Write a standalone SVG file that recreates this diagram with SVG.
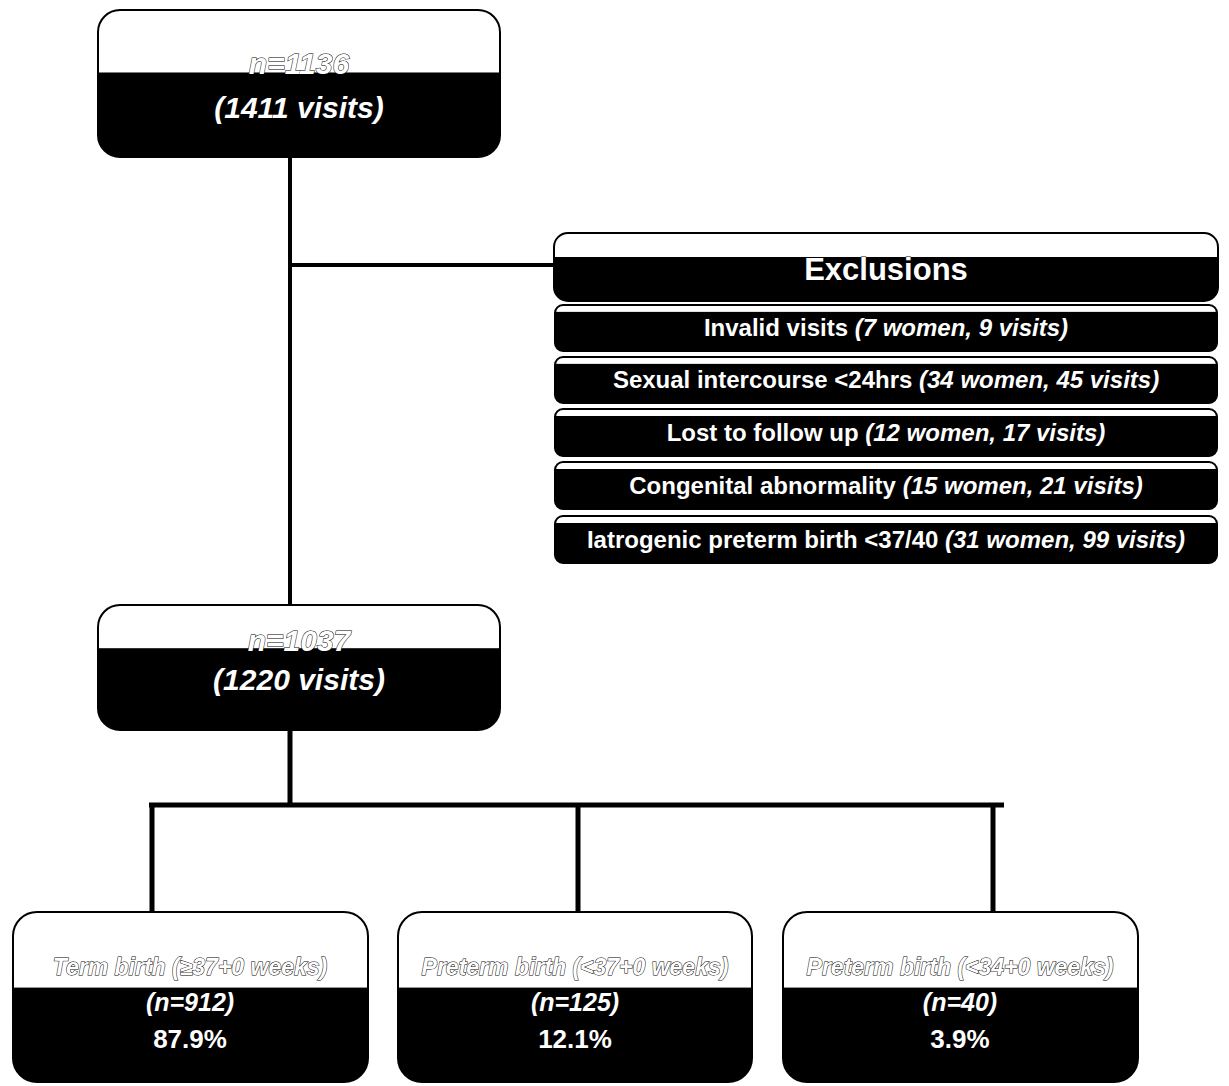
<svg xmlns="http://www.w3.org/2000/svg" width="1229" height="1086" viewBox="0 0 1229 1086">
<defs>
<linearGradient id="gTop" x1="0" y1="0" x2="0" y2="1"><stop offset="0" stop-color="#fff"/><stop offset="0.42" stop-color="#fff"/><stop offset="0.43" stop-color="#000"/><stop offset="1" stop-color="#000"/></linearGradient>
<linearGradient id="gMid" x1="0" y1="0" x2="0" y2="1"><stop offset="0" stop-color="#fff"/><stop offset="0.34" stop-color="#fff"/><stop offset="0.35" stop-color="#000"/><stop offset="1" stop-color="#000"/></linearGradient>
<linearGradient id="gBot" x1="0" y1="0" x2="0" y2="1"><stop offset="0" stop-color="#fff"/><stop offset="0.44" stop-color="#fff"/><stop offset="0.45" stop-color="#000"/><stop offset="1" stop-color="#000"/></linearGradient>
<linearGradient id="gExH" x1="0" y1="0" x2="0" y2="1"><stop offset="0" stop-color="#fff"/><stop offset="0.35" stop-color="#fff"/><stop offset="0.36" stop-color="#000"/><stop offset="1" stop-color="#000"/></linearGradient>
<linearGradient id="gRow" x1="0" y1="0" x2="0" y2="1"><stop offset="0" stop-color="#fff"/><stop offset="0.14" stop-color="#fff"/><stop offset="0.15" stop-color="#000"/><stop offset="1" stop-color="#000"/></linearGradient>
</defs>
<style>
.box{stroke:#000;stroke-width:2}
text{font-family:"Liberation Sans",Arial,sans-serif;fill:#fff;stroke:#000;stroke-width:1;paint-order:stroke;text-anchor:middle;font-weight:bold}
.big{font-size:30px;font-style:italic}
.hdr{font-size:31px}
.row{font-size:24px}
.it{font-style:italic}
.ttl{font-size:23px;font-style:italic}
.n{font-size:25px;font-style:italic}
.pct{font-size:26px}
.conn{stroke:#000;fill:none}
</style>
<g id="connectors">
<line class="conn" x1="290" y1="157" x2="290" y2="605" stroke-width="4"/>
<line class="conn" x1="290" y1="265" x2="555" y2="265" stroke-width="4"/>
<line class="conn" x1="290" y1="730" x2="290" y2="805" stroke-width="5"/>
<line class="conn" x1="149" y1="805" x2="1004" y2="805" stroke-width="5"/>
<line class="conn" x1="152" y1="805" x2="152" y2="912" stroke-width="5"/>
<line class="conn" x1="578" y1="805" x2="578" y2="912" stroke-width="5"/>
<line class="conn" x1="993" y1="805" x2="993" y2="912" stroke-width="5"/>
</g>
<g id="node-total">
<rect class="box" x="98" y="10" width="402" height="147" rx="22" fill="url(#gTop)"/>
<text class="big" x="299" y="74">n=1136</text>
<text class="big" x="299" y="118">(1411 visits)</text>
</g>
<g id="node-exclusions">
<rect class="box" x="554" y="233" width="664" height="68" rx="14" fill="url(#gExH)"/>
<text class="hdr" x="886" y="280">Exclusions</text>
<rect class="box" x="555" y="305" width="662" height="46" rx="8" fill="url(#gRow)"/>
<text class="row" x="886" y="336">Invalid visits <tspan class="it">(7 women, 9 visits)</tspan></text>
<rect class="box" x="555" y="357" width="662" height="46" rx="8" fill="url(#gRow)"/>
<text class="row" x="886" y="388">Sexual intercourse &lt;24hrs <tspan class="it">(34 women, 45 visits)</tspan></text>
<rect class="box" x="555" y="409" width="662" height="47" rx="8" fill="url(#gRow)"/>
<text class="row" x="886" y="441">Lost to follow up <tspan class="it">(12 women, 17 visits)</tspan></text>
<rect class="box" x="555" y="462" width="662" height="47" rx="8" fill="url(#gRow)"/>
<text class="row" x="886" y="494">Congenital abnormality <tspan class="it">(15 women, 21 visits)</tspan></text>
<rect class="box" x="555" y="516" width="662" height="47" rx="8" fill="url(#gRow)"/>
<text class="row" x="886" y="548">Iatrogenic preterm birth &lt;37/40 <tspan class="it">(31 women, 99 visits)</tspan></text>
</g>
<g id="node-included">
<rect class="box" x="98" y="605" width="402" height="125" rx="22" fill="url(#gMid)"/>
<text class="big" x="299" y="651">n=1037</text>
<text class="big" x="299" y="690">(1220 visits)</text>
</g>
<g id="node-term">
<rect class="box" x="13" y="912" width="355" height="170" rx="24" fill="url(#gBot)"/>
<text class="ttl" x="190" y="975">Term birth (≥37+0 weeks)</text>
<text class="n" x="190" y="1011">(n=912)</text>
<text class="pct" x="190" y="1048">87.9%</text>
</g>
<g id="node-ptb37">
<rect class="box" x="398" y="912" width="354" height="170" rx="24" fill="url(#gBot)"/>
<text class="ttl" x="575" y="975">Preterm birth (&lt;37+0 weeks)</text>
<text class="n" x="575" y="1011">(n=125)</text>
<text class="pct" x="575" y="1048">12.1%</text>
</g>
<g id="node-ptb34">
<rect class="box" x="783" y="912" width="355" height="170" rx="24" fill="url(#gBot)"/>
<text class="ttl" x="960" y="975">Preterm birth (&lt;34+0 weeks)</text>
<text class="n" x="960" y="1011">(n=40)</text>
<text class="pct" x="960" y="1048">3.9%</text>
</g>
</svg>
